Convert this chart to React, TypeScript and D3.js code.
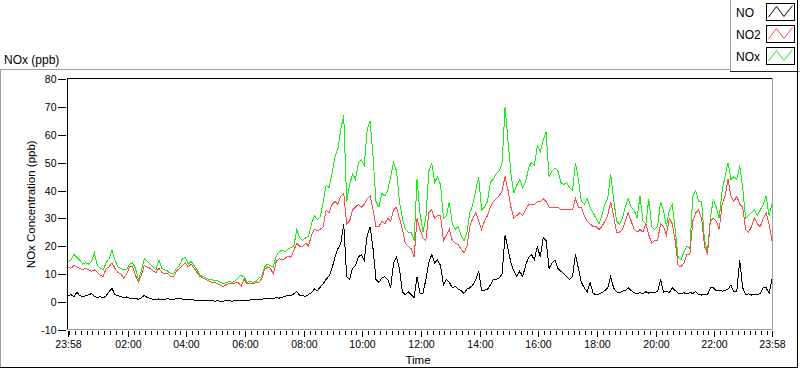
import React, { useEffect, useRef } from 'react';
import * as d3 from 'd3';

// Readings every 6 minutes, 23:58 -> 23:58 next day, in ppb
const NO = [
  2.0, 2.6, 1.8, 3.4, 2.2, 1.7, 2.1, 2.5, 2.9, 2.0,
  1.5, 1.8, 1.4, 2.1, 3.6, 4.8, 2.5, 2.2, 1.8, 1.5,
  1.7, 1.2, 1.0, 1.3, 0.8, 1.4, 2.3, 1.5, 1.2, 0.9,
  0.8, 1.0, 0.7, 0.9, 1.1, 0.7, 0.9, 1.1, 1.3, 0.9,
  0.7, 0.6, 0.9, 0.6, 0.5, 0.4, 0.5, 0.3, 0.3, 0.4,
  0.2, 0.3, 0.2, 0.2, 0.4, 0.3, 0.2, 0.4, 0.5, 0.4,
  0.5, 0.6, 0.6, 0.7, 0.9, 0.8, 0.9, 1.1, 1.3, 1.0,
  1.2, 1.4, 1.3, 1.6, 1.9, 2.4, 2.1, 2.9, 3.6, 2.2,
  2.2, 1.9, 2.6, 3.2, 4.6, 4.0, 5.2, 6.5, 8.0, 9.2,
  12, 16, 19, 21, 28, 9, 8, 12, 13, 16,
  17, 15, 24, 27, 19, 8, 7, 8.5, 9, 8,
  5, 14, 16, 12, 3.5, 2.5, 3.5, 2.5, 1.5, 9,
  3, 3, 8, 14, 17, 14, 15, 13, 6, 8,
  7, 5, 5.5, 4.5, 4, 3, 4.5, 5, 6, 8,
  11, 4, 4.2, 4.5, 6, 8, 8, 8.5, 10, 24,
  19, 14, 11, 9, 11, 9, 13, 16, 17, 15,
  20, 16, 23, 22, 12, 14, 15, 12, 11, 10,
  9, 8, 9, 17, 12, 7, 5, 3.5, 7, 3,
  2.5, 2.8, 3.2, 4, 5, 9, 5, 3.5, 3.2, 3.8,
  4, 5, 4, 3.2, 2.8, 3.3, 2.9, 3.6, 3.1, 3.5,
  3.4, 3.6, 8, 3.4, 3.7, 3.3, 5, 4, 3.1, 2.9,
  3.2, 2.8, 3.3, 3.0, 3.6, 2.6, 2.4, 2.7, 2.5, 5,
  5, 4, 4.2, 3.8, 4, 4.5, 6, 3.5, 3.7, 15,
  5, 2.5, 2.8, 2.4, 2.6, 2.5, 3, 5, 5, 3, 8,
];

const NO2 = [
  12.5, 12, 13, 12.5, 12, 11.5, 12, 11.5, 11, 11.5,
  10.5, 9.5, 9, 12, 12.5, 14, 12, 10.5, 10, 8.5,
  10, 12.5, 12.5, 9.5, 7, 9.5, 13, 12.5, 12, 11,
  10.5, 12, 10.5, 10, 10, 9, 9, 11, 12, 13,
  14, 12.5, 13.5, 12, 10.5, 9, 8.5, 8, 7.5, 7,
  7, 6.5, 5.8, 5.5, 6.2, 6.5, 6.4, 6.8, 7, 5.5,
  8, 6.4, 6.5, 6.4, 6.8, 7, 8.2, 11.5, 12.5, 12,
  10, 14.5, 15.5, 15, 15.5, 16.5, 16, 18.5, 21, 20,
  20, 21, 20, 24, 26, 25.5, 26, 27, 33, 32,
  35, 36, 35, 38, 39, 28, 29, 33, 34, 35,
  34, 35, 37, 38, 33, 27, 27, 29, 28, 30,
  29, 33, 34, 30, 26, 21, 20, 19, 16, 30,
  26, 23, 22, 32, 33, 30, 31, 31, 22, 24,
  26, 22, 21, 20.5, 19, 17.5, 20, 27, 30, 32,
  29, 26, 29, 31, 34, 36, 37, 38, 40, 45,
  40, 34, 30, 31, 32, 31, 33, 35, 35, 35,
  36, 36, 37, 36, 34, 34, 34, 34, 33, 33,
  33, 33, 33, 37, 34, 34, 31, 29, 28, 27,
  27, 26, 27, 29, 31, 36, 31, 25, 25, 26,
  29, 32, 29, 26, 25, 26, 25, 28, 24, 21,
  22, 22, 28, 27, 24, 30, 28, 22, 13, 12.5,
  14, 17, 17, 29, 32, 33, 30, 20, 17, 29,
  30, 29, 26, 35, 38, 44, 38, 36, 38, 35,
  34, 26, 25, 27, 30, 28, 27, 30, 32, 28, 22,
];

const NOX = [
  14.5, 15, 17, 16, 15, 13.5, 14, 13.5, 14.5, 17.5,
  13, 12, 11.5, 14, 15.5, 18.5, 15, 12.5, 12, 11.5,
  11.5, 13.5, 14, 12, 8, 11, 15.5, 14.5, 13.5, 12.5,
  11.5, 15, 12, 11.5, 11, 10, 10, 12, 13, 15.5,
  16, 13.5, 14.5, 13, 11.5, 9.5, 9, 8.5, 8, 8,
  7.5, 7.5, 7, 6.5, 7, 7.2, 7, 7.5, 8.5, 9.5,
  9, 7, 7.2, 7, 7.2, 8.5, 9, 12.5, 13.5, 13,
  12.5, 16.5, 18, 18.5, 18, 19, 19.5, 20, 26, 23,
  22, 23, 23.5, 28, 31, 29.5, 30.5, 36, 42, 41,
  46, 52, 55, 62, 67, 36, 42, 46, 44, 50,
  51, 49, 62, 65, 52, 36, 34, 39, 38, 40,
  45, 50, 47, 36, 30, 26, 25, 25, 22, 44,
  32, 25, 30, 47, 50, 43, 45, 42, 30, 31,
  36, 28, 26, 27, 24, 22, 25, 32, 35, 40,
  45, 33, 34, 36, 43, 44, 46, 47, 50, 70,
  58, 46, 39, 42, 44, 41, 43, 48, 50, 49,
  56, 54, 58, 61, 45, 47, 48, 47, 43, 42,
  43, 41, 40, 50, 44, 36, 35, 37, 34, 32,
  30, 28, 31, 35, 37, 46, 37, 29, 28, 30,
  34, 37, 34, 33, 30, 38, 29, 28, 37, 27,
  26, 27, 36, 33, 27, 33, 35, 26, 16, 15,
  18, 20, 19, 38, 40, 36, 36, 22, 18, 30,
  37, 34, 30, 40, 45, 50, 44, 45, 44, 49,
  41, 30, 31, 32, 33, 31, 33, 35, 38, 31, 35,
];

const SERIES_NAMES = ['NO', 'NO2', 'NOx'];
const SERIES_COLORS = ['#000000', '#ff4848', '#12f012'];
const Y_TICKS = [-10, 0, 10, 20, 30, 40, 50, 60, 70, 80];

const START = new Date(2000, 0, 1, 23, 58);
const END = d3.timeMinute.offset(START, 24 * 60);
const STEP_MIN = 6;

const FONT = "'Liberation Sans', Arial, sans-serif";

const App: React.FC = () => {
  const svgRef = useRef<SVGSVGElement>(null);

  useEffect(() => {
    if (!svgRef.current) return;
    const svg = d3.select(svgRef.current);
    svg.selectAll('*').remove();

    const plot = { left: 68, right: 772, top: 79, bottom: 329.5 };

    const x = d3.scaleTime().domain([START, END]).range([plot.left, plot.right]);
    const y = d3.scaleLinear().domain([-10, 80]).range([plot.bottom, plot.top + 0.3]);
    const times = NO.map((_, i) => d3.timeMinute.offset(START, i * STEP_MIN));

    // --- outer panel ---
    const hline = (x1: number, x2: number, yy: number, c: string) =>
      svg.append('line').attr('x1', x1).attr('x2', x2).attr('y1', yy).attr('y2', yy)
        .attr('stroke', c).attr('shape-rendering', 'crispEdges');
    const vline = (xx: number, y1: number, y2: number, c: string) =>
      svg.append('line').attr('x1', xx).attr('x2', xx).attr('y1', y1).attr('y2', y2)
        .attr('stroke', c).attr('shape-rendering', 'crispEdges');

    hline(0, 798, 69.5, '#a0a0a0');
    vline(0.5, 69, 368, '#a0a0a0');
    hline(0, 798, 367.5, '#000');
    vline(797.5, 69, 368, '#000');

    svg.append('text').attr('x', 4).attr('y', 63.5)
      .attr('font-family', FONT).attr('font-size', 12).attr('fill', '#000')
      .text('NOx (ppb)');

    // --- data ---
    const defs = svg.append('defs');
    defs.append('clipPath').attr('id', 'plot-clip').append('rect')
      .attr('x', plot.left).attr('y', plot.top)
      .attr('width', plot.right - plot.left).attr('height', plot.bottom - plot.top);

    const line = d3.line<number>()
      .x((_, i) => x(times[i]))
      .y(d => y(d));

    const g = svg.append('g').attr('clip-path', 'url(#plot-clip)');
    const drawOrder = [
      { values: NOX, color: SERIES_COLORS[2] },
      { values: NO2, color: SERIES_COLORS[1] },
      { values: NO, color: SERIES_COLORS[0] },
    ];
    drawOrder.forEach(s => {
      g.append('path')
        .datum(s.values)
        .attr('fill', 'none')
        .attr('stroke', s.color)
        .attr('stroke-width', 1)
        .attr('shape-rendering', 'crispEdges')
        .attr('d', line);
    });

    // --- plot frame (sunken look) ---
    hline(67, 773, 78.5, '#000');
    vline(67.5, 78, 330, '#000');
    vline(772.5, 78, 330, '#a0a0a0');
    hline(67, 773, 329.5, '#a0a0a0');

    // --- y axis ---
    Y_TICKS.forEach(v => {
      const yy = Math.round(y(v)) + 0.5;
      hline(58, 66, yy, '#000');
      svg.append('text').attr('x', 56.5).attr('y', yy + 3.8)
        .attr('text-anchor', 'end')
        .attr('font-family', FONT).attr('font-size', 10.5).attr('fill', '#000')
        .text(v);
    });

    svg.append('text')
      .attr('transform', `translate(35, ${(plot.top + plot.bottom) / 2}) rotate(-90)`)
      .attr('text-anchor', 'middle')
      .attr('font-family', FONT).attr('font-size', 11.5).attr('fill', '#000')
      .text('NOx Concentration (ppb)');

    // --- x axis ---
    const fmt = d3.timeFormat('%H:%M');
    const majors = [START, ...d3.timeHour.every(2)!.range(d3.timeMinute.offset(START, 30), END), END];
    const majorKeys = new Set(majors.map(d => +d));
    const minors = d3.timeMinute.every(12)!.range(START, END).filter(d => !majorKeys.has(+d));

    minors.forEach(d => {
      const xx = Math.round(x(d)) + 0.5;
      vline(xx, 331, 334.5, '#000');
    });
    majors.forEach(d => {
      const xx = Math.round(x(d)) + 0.5;
      vline(xx, 331, 337, '#000');
      svg.append('text').attr('x', xx).attr('y', 348)
        .attr('text-anchor', 'middle')
        .attr('font-family', FONT).attr('font-size', 10.5).attr('fill', '#000')
        .text(fmt(d));
    });

    svg.append('text').attr('x', (plot.left + plot.right) / 2 - 2).attr('y', 364)
      .attr('text-anchor', 'middle')
      .attr('font-family', FONT).attr('font-size', 11.5).attr('fill', '#000')
      .text('Time');

    // --- legend ---
    const lg = svg.append('g');
    lg.append('rect').attr('x', 730.5).attr('y', -1).attr('width', 70).attr('height', 72.5)
      .attr('fill', '#fff').attr('stroke', '#a0a0a0').attr('shape-rendering', 'crispEdges');
    hline(730, 798, 71.5, '#202020');
    vline(797.5, 0, 72, '#000');

    SERIES_NAMES.forEach((name, i) => {
      const top = 3.5 + i * 22;
      lg.append('text').attr('x', 736).attr('y', 17 + i * 22)
        .attr('font-family', FONT).attr('font-size', 12).attr('fill', '#000')
        .text(name);
      lg.append('rect').attr('x', 766.5).attr('y', top).attr('width', 28).attr('height', 17)
        .attr('fill', '#fff').attr('stroke', '#000').attr('shape-rendering', 'crispEdges');
      const zig: [number, number][] = [[2, 13.5], [10, 3], [17.5, 13], [26, 2]];
      lg.append('path')
        .attr('d', d3.line()(zig.map(([px, py]) => [766.5 + px, top + py])))
        .attr('fill', 'none').attr('stroke', SERIES_COLORS[i]).attr('stroke-width', 1);
    });
  }, []);

  return (
    <svg
      ref={svgRef}
      width={800}
      height={369}
      style={{ position: 'absolute', left: 0, top: 0, display: 'block', background: '#fff' }}
    />
  );
};

export default App;
